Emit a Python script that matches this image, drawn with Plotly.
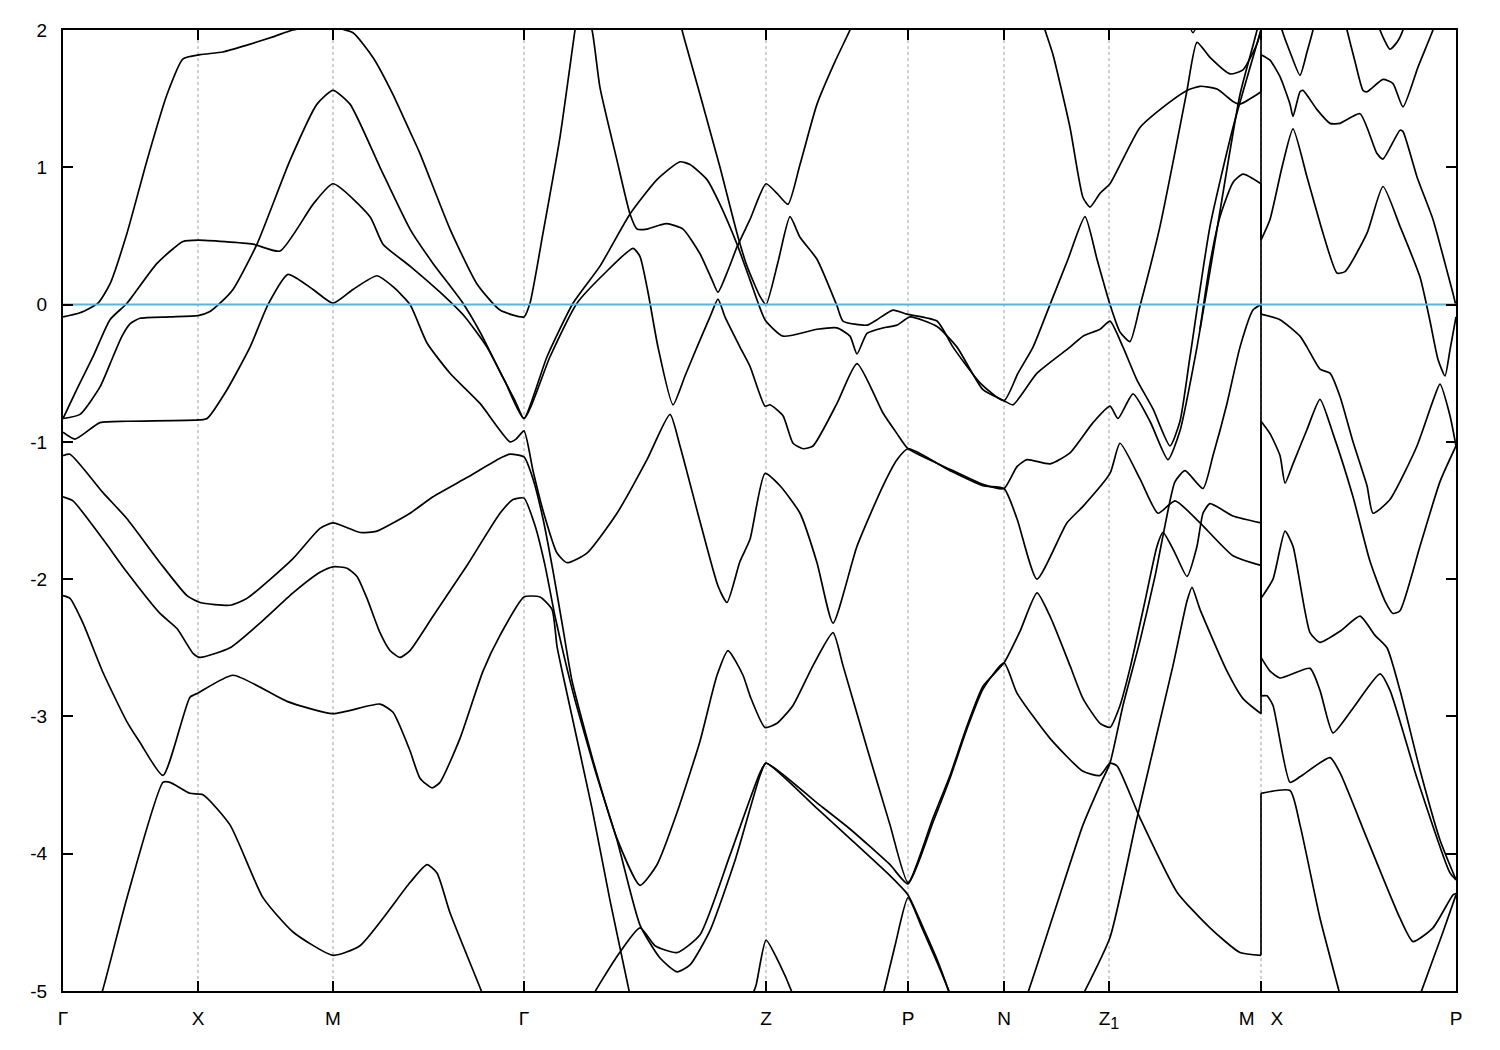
import plotly.graph_objects as go

# ---------------- high-symmetry path ----------------
kpt_pos = [0, 135, 270, 461, 703, 845, 941, 1046, 1198, 1393]
kpt_lab = ["Γ", "X", "M", "Γ", "Z", "P", "N", "Z<sub><span style='font-size:16px'>1</span></sub>", "M\u00a0\u00a0\u00a0X", "P"]
e_ticks = [-5, -4, -3, -2, -1, 0, 1, 2]
e_fermi = 0.0

# ---------------- bands (path coordinate, energy in eV) ----------------
band_a_k = [0, 17, 35, 47, 64, 84, 104, 120, 137, 160, 184, 210, 230, 250, 270, 290, 310, 330, 347, 357, 387, 414, 437, 461,
            467, 480, 497, 512, 517]
band_a_e = [-0.09, -0.06, 0.01, 0.15, 0.52, 1.05, 1.53, 1.79, 1.82, 1.84, 1.89, 1.95, 2.0, 2.02, 2.02, 1.98, 1.80, 1.53, 1.26, 1.10, 0.55, 0.15, -0.04, -0.09,
            0.01, 0.52, 1.22, 2.0, 2.25]

band_b_k = [0, 17, 37, 50, 59, 67, 77, 107, 135, 147, 157, 170, 194, 227, 254, 270, 287, 317, 347, 370, 399, 417, 437, 452, 461,
            484, 510, 537, 567, 594, 617, 627, 644, 657, 674, 687, 702,
            720, 754, 774, 787, 794, 804, 820, 834, 847,
            874, 894, 920, 941,
            950, 974, 1007, 1020, 1037, 1047, 1060, 1074, 1090, 1107, 1117, 1127, 1147, 1170, 1198]
band_b_e = [-0.83, -0.80, -0.60, -0.38, -0.23, -0.14, -0.10, -0.09, -0.08, -0.05, 0.01, 0.11, 0.44, 1.05, 1.46, 1.56, 1.46, 1.00, 0.55, 0.30, 0.02, -0.20, -0.49, -0.70, -0.83,
            -0.38, 0.01, 0.28, 0.66, 0.91, 1.04, 1.02, 0.91, 0.73, 0.44, 0.18, -0.11,
            -0.23, -0.18, -0.17, -0.23, -0.36, -0.21, -0.17, -0.15, -0.09,
            -0.16, -0.31, -0.62, -0.70,
            -0.73, -0.50, -0.31, -0.23, -0.18, -0.12, -0.31, -0.55, -0.76, -1.03, -0.85, -0.38, 0.57, 1.29, 2.0]

band_c_k = [0, 15, 30, 47, 64, 94, 120, 135, 190, 217, 250, 270, 307, 320, 347, 377, 402, 424, 442, 461,
            487, 514, 542, 570, 577, 585, 595, 610, 622, 634, 647, 655, 662, 677, 687, 702, 707, 720, 730, 740, 750, 774, 794, 820, 834, 845,
            887, 920, 941,
            954, 964, 987, 1007, 1030, 1047, 1055, 1070, 1087, 1105, 1117, 1134, 1152, 1177, 1194, 1196]
band_c_e = [-0.83, -0.60, -0.38, -0.11, 0.01, 0.30, 0.46, 0.47, 0.44, 0.39, 0.73, 0.88, 0.64, 0.44, 0.28, 0.09, -0.09, -0.31, -0.56, -0.83,
            -0.38, 0.01, 0.23, 0.41, 0.35, 0.09, -0.31, -0.73, -0.52, -0.31, -0.09, 0.04, -0.09, -0.31, -0.45, -0.74, -0.73, -0.81, -1.01, -1.05, -1.03, -0.72, -0.43, -0.79, -0.94, -1.05,
            -1.20, -1.31, -1.34,
            -1.18, -1.13, -1.16, -1.08, -0.86, -0.74, -0.83, -0.65, -0.85, -1.13, -0.92, -0.31, 0.46, 1.53, 2.0, 2.1]

# branch that leaves the steep line near Z1-M and ends at M (0.88 eV)
band_c2_k = [1137, 1147, 1157, 1170, 1180, 1198]
band_c2_e = [-0.18, 0.30, 0.64, 0.89, 0.95, 0.88]

band_d_k = [0, 12, 37, 64, 137, 144, 164, 187, 205, 225, 250, 270, 290, 314, 330, 347, 364, 387, 417, 447, 453, 461,
            470, 480, 494, 504, 524, 554, 584, 607, 617, 637, 655, 664, 677, 687, 702, 717, 737, 754, 770, 794, 820, 834, 845,
            887, 920, 941,
            954, 974, 1004, 1020, 1047, 1057, 1077, 1095, 1112, 1137, 1170, 1198]
band_d_e = [-0.93, -0.98, -0.86, -0.85, -0.84, -0.83, -0.62, -0.31, 0.0, 0.22, 0.11, 0.01, 0.11, 0.21, 0.13, 0.0, -0.28, -0.50, -0.72, -1.00, -0.98, -0.92,
            -1.21, -1.50, -1.81, -1.88, -1.81, -1.52, -1.13, -0.80, -1.03, -1.58, -2.05, -2.17, -1.87, -1.71, -1.23, -1.32, -1.52, -1.88, -2.32, -1.76, -1.32, -1.13, -1.05,
            -1.21, -1.32, -1.34,
            -1.56, -2.00, -1.59, -1.47, -1.23, -1.01, -1.27, -1.52, -1.43, -1.59, -1.83, -1.90]

band_e_k = [0, 7, 40, 64, 97, 124, 137, 167, 184, 230, 257, 270, 297, 314, 347, 370, 404, 437, 447, 461,
            470, 480, 490, 500, 509, 530, 554, 577, 594, 614, 637, 654, 665, 680, 687, 702, 714, 730, 750, 770, 780, 804, 827, 845,
            870, 887, 904, 920, 941,
            957, 974, 987, 1007, 1020, 1037, 1047, 1057, 1067, 1082, 1094, 1100, 1112, 1124, 1134, 1140, 1147, 1170, 1198]
band_e_e = [-1.10, -1.09, -1.37, -1.56, -1.88, -2.12, -2.17, -2.19, -2.14, -1.85, -1.63, -1.59, -1.66, -1.65, -1.52, -1.40, -1.26, -1.12, -1.09, -1.11,
            -1.27, -1.56, -1.94, -2.36, -2.74, -3.32, -3.89, -4.23, -4.08, -3.70, -3.18, -2.70, -2.52, -2.70, -2.85, -3.08, -3.05, -2.92, -2.63, -2.39, -2.63, -3.23, -3.79, -4.21,
            -3.74, -3.43, -3.07, -2.78, -2.61,
            -2.38, -2.10, -2.27, -2.63, -2.87, -3.05, -3.08, -2.92, -2.65, -2.16, -1.76, -1.66, -1.81, -1.98, -1.76, -1.52, -1.45, -1.54, -1.59]

band_f_k = [0, 10, 40, 64, 97, 114, 130, 137, 167, 197, 230, 257, 270, 284, 294, 304, 317, 327, 337, 347, 370, 404, 437, 450, 461,
            472, 482, 492, 502, 512, 532, 554, 577, 597, 614, 627, 647, 672, 697, 703,
            754, 787, 827, 845,
            870, 887, 904, 920, 941,
            954, 987, 1020, 1037, 1047, 1054, 1077, 1114, 1147, 1177, 1198]
band_f_e = [-1.40, -1.43, -1.71, -1.95, -2.25, -2.36, -2.54, -2.57, -2.50, -2.32, -2.10, -1.95, -1.91, -1.92, -1.98, -2.14, -2.39, -2.52, -2.57, -2.52, -2.27, -1.90, -1.52, -1.42, -1.41,
            -1.61, -1.90, -2.27, -2.59, -2.88, -3.39, -3.90, -4.52, -4.76, -4.86, -4.81, -4.56, -4.05, -3.43, -3.34,
            -3.63, -3.82, -4.08, -4.22,
            -3.77, -3.45, -3.09, -2.80, -2.61,
            -2.83, -3.16, -3.40, -3.43, -3.34, -3.36, -3.74, -4.28, -4.54, -4.72, -4.74]

band_g_k = [0, 7, 20, 40, 64, 77, 100, 127, 135, 170, 224, 270, 317, 330, 347, 357, 369, 377, 397, 420, 437, 461, 477, 489, 494, 500, 529, 547, 567, 570]
band_g_e = [-2.12, -2.14, -2.32, -2.68, -3.04, -3.19, -3.43, -2.86, -2.83, -2.70, -2.89, -2.98, -2.91, -2.97, -3.25, -3.45, -3.52, -3.48, -3.16, -2.67, -2.41, -2.13, -2.13, -2.22, -2.49, -2.70, -3.67, -4.34, -5.03, -5.14]

band_h_k = [32, 39, 64, 100, 107, 127, 140, 167, 200, 230, 270, 297, 347, 364, 374, 387, 420, 427]
band_h_e = [-5.14, -5.01, -4.32, -3.48, -3.48, -3.56, -3.57, -3.79, -4.32, -4.57, -4.74, -4.67, -4.21, -4.08, -4.14, -4.43, -5.03, -5.17]

band_p0_k = [615, 619, 637, 657, 674, 684, 697, 703, 715, 727, 737, 754, 774, 780, 804, 814, 830, 844, 874, 890, 917, 941,
             955, 970, 987, 1005, 1022, 1034, 1047, 1057, 1067, 1077, 1097, 1112, 1124, 1134, 1147, 1167, 1180, 1194, 1198]
band_p0_e = [2.13, 2.0, 1.53, 1.0, 0.52, 0.28, 0.06, 0.0, 0.31, 0.64, 0.49, 0.33, -0.01, -0.12, -0.15, -0.11, -0.04, -0.07, -0.12, -0.31, -0.57, -0.70,
             -0.50, -0.31, 0.0, 0.33, 0.64, 0.33, 0.0, -0.20, -0.27, -0.01, 0.57, 1.11, 1.56, 1.91, 1.80, 1.68, 1.71, 1.90, 2.0]

band_p1_k = [522, 529, 537, 554, 567, 574, 584, 597, 604, 620, 637, 649, 655, 665, 674, 687, 703, 714, 725, 737, 754, 772, 787, 793]
band_p1_e = [2.13, 2.0, 1.58, 1.05, 0.66, 0.55, 0.55, 0.58, 0.59, 0.55, 0.37, 0.18, 0.09, 0.25, 0.42, 0.62, 0.88, 0.81, 0.73, 1.02, 1.46, 1.77, 2.0, 2.11]

band_q1_k = [977, 982, 990, 1007, 1020, 1027, 1037, 1047, 1077, 1104, 1124, 1137, 1154, 1170, 1177, 1194, 1198]
band_q1_e = [2.13, 2.0, 1.82, 1.29, 0.78, 0.71, 0.81, 0.88, 1.29, 1.46, 1.56, 1.59, 1.57, 1.48, 1.46, 1.53, 1.55]

band_l4_k = [525, 530, 552, 577, 592, 614, 637, 667, 697, 703, 754, 787, 827, 845, 859, 874, 887, 890]
band_l4_e = [-5.10, -5.03, -4.77, -4.54, -4.67, -4.72, -4.59, -4.01, -3.41, -3.34, -3.67, -3.89, -4.16, -4.30, -4.52, -4.77, -5.03, -5.10]

band_v1_k = [817, 820, 832, 845, 859, 874, 888, 891]
band_v1_e = [-5.10, -5.03, -4.67, -4.32, -4.54, -4.79, -5.04, -5.12]

band_l5_k = [687, 693, 703, 717, 730, 733]
band_l5_e = [-5.07, -4.96, -4.63, -4.81, -5.03, -5.10]

band_u1_k = [957, 964, 992, 1020, 1037, 1047, 1060, 1077, 1092, 1102, 1112, 1122, 1140, 1150, 1164, 1177, 1190, 1198]
band_u1_e = [-5.14, -5.03, -4.41, -3.79, -3.50, -3.34, -2.92, -2.45, -1.98, -1.61, -1.29, -1.21, -1.34, -1.10, -0.72, -0.31, -0.04, 0.0]

band_uc_k = [1012, 1017, 1047, 1074, 1110, 1124, 1129, 1137, 1164, 1180, 1198]
band_uc_e = [-5.14, -5.07, -4.61, -3.74, -2.63, -2.16, -2.06, -2.22, -2.67, -2.87, -2.98]

band_t_k = [1123, 1130, 1137]
band_t_e = [2.10, 1.98, 2.10]

# X - P segment
xp2_k = [1198, 1207, 1217, 1227, 1230, 1237, 1240, 1254, 1267, 1277, 1297, 1314, 1320, 1337, 1340, 1354, 1370, 1382, 1390, 1393]
xp2_e = [1.82, 1.78, 1.66, 1.46, 1.37, 1.55, 1.56, 1.42, 1.32, 1.32, 1.39, 1.10, 1.06, 1.27, 1.26, 0.93, 0.62, 0.30, 0.08, -0.01]
xp3_k = [1280, 1284, 1292, 1300, 1304, 1320, 1330, 1340, 1355, 1370, 1374]
xp3_e = [2.13, 2.0, 1.77, 1.56, 1.55, 1.64, 1.61, 1.44, 1.73, 2.0, 2.09]
xp4_k = [1313, 1317, 1327, 1334, 1340, 1343]
xp4_e = [2.13, 2.0, 1.86, 1.91, 2.0, 2.09]
xv_k = [1215, 1219, 1227, 1237, 1244, 1250, 1254]
xv_e = [2.13, 2.0, 1.84, 1.67, 1.84, 2.0, 2.13]
xp5_k = [1198, 1207, 1219, 1230, 1244, 1260, 1274, 1282, 1304, 1320, 1337, 1357, 1367, 1375, 1382, 1387, 1393]
xp5_e = [0.47, 0.62, 1.0, 1.28, 0.93, 0.52, 0.23, 0.24, 0.52, 0.86, 0.57, 0.20, -0.12, -0.40, -0.52, -0.33, -0.09]
xp6_k = [1198, 1217, 1237, 1244, 1257, 1267, 1277, 1290, 1304, 1310, 1327, 1354, 1370, 1377, 1387, 1393]
xp6_e = [-0.07, -0.11, -0.23, -0.31, -0.47, -0.50, -0.67, -1.0, -1.32, -1.52, -1.42, -1.03, -0.70, -0.58, -0.81, -1.03]
xp7_k = [1198, 1207, 1217, 1222, 1230, 1244, 1257, 1270, 1290, 1307, 1322, 1330, 1337, 1357, 1377, 1393]
xp7_e = [-0.85, -0.94, -1.10, -1.30, -1.16, -0.91, -0.69, -0.94, -1.40, -1.87, -2.16, -2.25, -2.23, -1.76, -1.29, -1.03]
xp8_k = [1198, 1210, 1222, 1230, 1247, 1257, 1277, 1297, 1312, 1324, 1337, 1357, 1377, 1393]
xp8_e = [-2.14, -2.0, -1.65, -1.76, -2.39, -2.46, -2.38, -2.27, -2.41, -2.50, -2.81, -3.39, -3.90, -4.19]
xp9_k = [1198, 1207, 1217, 1247, 1257, 1270, 1290, 1317, 1327, 1354, 1387, 1393]
xp9_e = [-2.57, -2.67, -2.72, -2.65, -2.81, -3.12, -2.94, -2.69, -2.81, -3.45, -4.14, -4.19]
xp10_k = [1198, 1204, 1210, 1227, 1237, 1267, 1277, 1304, 1337, 1350, 1370, 1390, 1393]
xp10_e = [-2.85, -2.85, -2.92, -3.48, -3.44, -3.30, -3.41, -3.89, -4.47, -4.64, -4.54, -4.30, -4.29]
xp11_k = [1198, 1227, 1237, 1257, 1277, 1280]
xp11_e = [-3.56, -3.54, -3.79, -4.47, -5.03, -5.14]
xp12_k = [1354, 1357, 1380, 1393]
xp12_e = [-5.10, -5.03, -4.57, -4.30]

# bands ending at M joined with bands starting at X (discontinuous path M|X)
joined = [
    ((band_b_k, band_b_e), (xp6_k, xp6_e)),
    ((band_u1_k, band_u1_e), (xp8_k, xp8_e)),
    ((band_e_k, band_e_e), (xp9_k, xp9_e)),
    ((band_d_k, band_d_e), (xp10_k, xp10_e)),
    ((band_uc_k, band_uc_e), (xp7_k, xp7_e)),
    ((band_c2_k, band_c2_e), (xp5_k, xp5_e)),
    ((band_q1_k, band_q1_e), (xp2_k, xp2_e)),
    ((band_f_k, band_f_e), (xp11_k, xp11_e)),
]
single = [
    (band_a_k, band_a_e), (band_c_k, band_c_e), (band_g_k, band_g_e), (band_h_k, band_h_e), (band_p0_k, band_p0_e),
    (band_p1_k, band_p1_e), (band_l4_k, band_l4_e), (band_v1_k, band_v1_e), (band_l5_k, band_l5_e),
    (band_t_k, band_t_e), (xp3_k, xp3_e), (xp4_k, xp4_e), (xv_k, xv_e), (xp12_k, xp12_e),
]

fig = go.Figure()
curve = dict(color="black", width=1.7, shape="spline", smoothing=0.55)
straight = dict(color="black", width=1.7)


def add_curve(k, e):
    fig.add_trace(go.Scatter(x=k, y=e, mode="lines", line=curve, showlegend=False, hoverinfo="skip"))


for (mk, me), (xk, xe) in joined:
    add_curve(mk, me)
    add_curve(xk, xe)
    # vertical jump at the M|X discontinuity
    fig.add_trace(go.Scatter(x=[mk[-1], xk[0]], y=[me[-1], xe[0]], mode="lines", line=straight,
                             showlegend=False, hoverinfo="skip"))
for k, e in single:
    add_curve(k, e)

# Fermi level
fig.add_trace(go.Scatter(x=[kpt_pos[0], kpt_pos[-1]], y=[e_fermi, e_fermi], mode="lines",
                         line=dict(color="#56B4E9", width=2), showlegend=False, hoverinfo="skip"))

# dashed vertical lines at high-symmetry points
for kp in kpt_pos[1:-1]:
    fig.add_vline(x=kp, line=dict(color="#a0a0a0", width=1, dash="3px,3px"), layer="below")

font = dict(family="Liberation Sans, Arial, sans-serif", size=19, color="black")
fig.update_layout(
    width=1492, height=1042,
    margin=dict(l=55, r=44, t=20, b=59),
    paper_bgcolor="white", plot_bgcolor="white",
    font=font,
    xaxis=dict(range=[kpt_pos[0], kpt_pos[-1]], tickvals=kpt_pos, ticktext=kpt_lab,
               ticks="inside", ticklen=10, tickwidth=1.5, tickcolor="black",
               showline=True, linecolor="black", linewidth=2, mirror="allticks",
               showgrid=False, zeroline=False, tickfont=font, ticklabelstandoff=9),
    yaxis=dict(range=[e_ticks[0], e_ticks[-1]], tickvals=e_ticks, ticktext=[str(v) for v in e_ticks],
               ticks="inside", ticklen=10, tickwidth=1.5, tickcolor="black",
               showline=True, linecolor="black", linewidth=2, mirror="allticks",
               showgrid=False, zeroline=False, tickfont=font, ticklabelstandoff=10),
)
fig.write_html("out.html")
